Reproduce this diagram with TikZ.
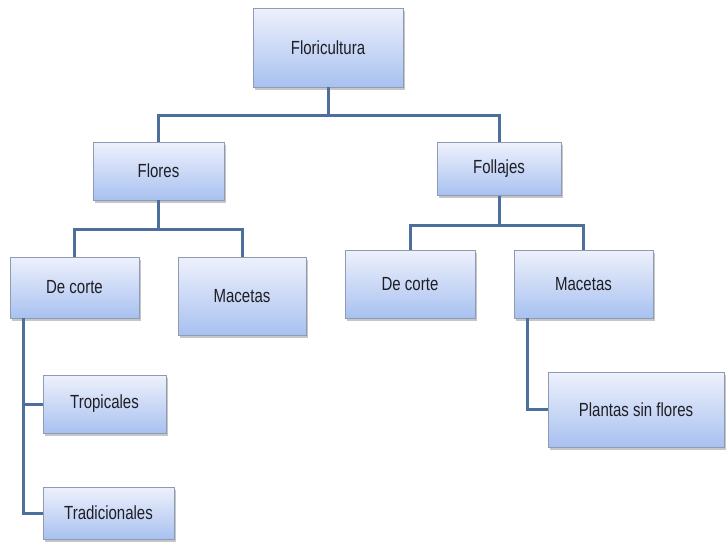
\documentclass[tikz,border=0pt]{standalone}
\usepackage{fontspec}
\setmainfont[FakeStretch=0.79]{Liberation Sans}
\usetikzlibrary{shadows,calc}
\definecolor{boxtop}{HTML}{EEF1FC}
\definecolor{boxbot}{HTML}{A8C1F0}
\definecolor{boxline}{HTML}{8E9BB3}
\definecolor{conn}{HTML}{4C6F9B}
\definecolor{txt}{HTML}{1E1E24}
\begin{document}
\begin{tikzpicture}[x=1pt,y=-1pt,
  orgbox/.style={draw=boxline, line width=0.8pt, top color=boxtop, bottom color=boxbot,
    drop shadow={shadow xshift=1.5pt, shadow yshift=-2.5pt, opacity=0.45},
    inner sep=0pt, text=txt, font=\fontsize{19}{21}\selectfont},
  link/.style={draw=conn, line width=3pt}]
\useasboundingbox (0,0) rectangle (726,542);
% nodes
\node[orgbox, minimum width=150pt, minimum height=79pt] (flor) at (328,47.5) {Floricultura};
\node[orgbox, minimum width=131pt, minimum height=58pt] (flores) at (158.5,171) {Flores};
\node[orgbox, minimum width=124pt, minimum height=53pt] (foll) at (499,169) {Follajes};
\node[orgbox, minimum width=129pt, minimum height=61pt] (decL) at (74.5,287.5) {De corte};
\node[orgbox, minimum width=128pt, minimum height=78pt] (macL) at (242,296) {Macetas};
\node[orgbox, minimum width=130pt, minimum height=68pt] (decR) at (410,284) {De corte};
\node[orgbox, minimum width=139pt, minimum height=68pt] (macR) at (583.5,284) {Macetas};
\node[orgbox, minimum width=123pt, minimum height=58pt] (trop) at (104.5,404) {Tropicales};
\node[orgbox, minimum width=131pt, minimum height=52pt] (trad) at (108.5,513) {Tradicionales};
\node[orgbox, minimum width=176pt, minimum height=75pt] (plan) at (636,409.5) {Plantas sin flores};
% junctions
\coordinate (j1) at (328,115);
\coordinate (j2) at (158.5,229);
\coordinate (j3) at (499,225);
% connectors
\draw[link] (flor.south) -- (j1);
\draw[link] (flores.north) |- (j1) -| (foll.north);
\draw[link] (flores.south) -- (j2);
\draw[link] (decL.north) |- (j2) -| (macL.north);
\draw[link] (foll.south) -- (j3);
\draw[link] (decR.north) |- (j3) -| (macR.north);
\coordinate (dL) at ($(decL.south west)+(14,0)$);
\draw[link] (dL) |- (trop.west);
\draw[link] (dL) |- (trad.west);
\coordinate (mR) at ($(macR.south west)+(14,0)$);
\draw[link] (mR) |- (plan.west);
\end{tikzpicture}
\end{document}
